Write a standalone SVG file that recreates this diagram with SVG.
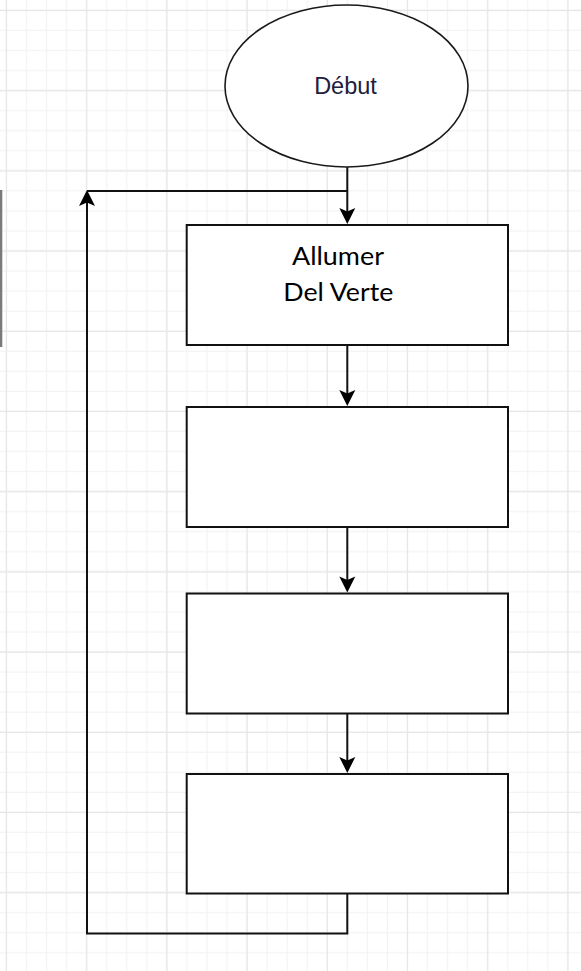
<svg xmlns="http://www.w3.org/2000/svg" width="581" height="971" viewBox="0 0 581 971">
  <style>
    .node { fill: #ffffff; stroke: #111111; stroke-width: 2; }
    .term { fill: #ffffff; stroke: #1a1a1a; stroke-width: 1.6; }
    .edge { fill: none; stroke: #111111; stroke-width: 2; }
    .lbl { font-family: Lato, "Open Sans", sans-serif; font-size: 25px; fill: #000000; text-anchor: middle; }
    .lbl2 { font-family: "Liberation Sans", Arial, sans-serif; font-size: 23.5px; fill: #20203c; text-anchor: middle; }
  </style>
  <defs>
    <pattern id="minor" patternUnits="userSpaceOnUse" x="-3.5" y="0.5" width="20.05" height="20.05">
      <path d="M10,0 V20.05 M0,10 H20.05" stroke="#f3f3f3" stroke-width="1.2" fill="none"/>
    </pattern>
    <pattern id="major" patternUnits="userSpaceOnUse" x="-33.5" y="-29.5" width="80.2" height="80.2">
      <path d="M40,0 V80.2 M0,40 H80.2" stroke="#e6e6e6" stroke-width="1.2" fill="none"/>
    </pattern>
    <marker id="arrow" markerUnits="userSpaceOnUse" markerWidth="17" markerHeight="17" refX="12" refY="8" orient="auto" overflow="visible">
      <path d="M0,0 L16,8 L0,16 L3.5,8 Z" fill="#000000"/>
    </marker>
  </defs>

  <g id="background">
    <rect x="0" y="0" width="581" height="971" fill="#ffffff"/>
    <rect x="0" y="0" width="581" height="971" fill="url(#minor)"/>
    <rect x="0" y="0" width="581" height="971" fill="url(#major)"/>
    <rect x="0" y="190" width="2.3" height="157" fill="#7a7a7a"/>
  </g>

  <g id="connectors">
    <path class="edge" d="M347.3,167 V220" marker-end="url(#arrow)"/>
    <path class="edge" d="M347.3,345 V402" marker-end="url(#arrow)"/>
    <path class="edge" d="M347.3,527 V588.5" marker-end="url(#arrow)"/>
    <path class="edge" d="M347.3,713.5 V769" marker-end="url(#arrow)"/>
    <path class="edge" d="M347.3,893.5 V933.5 H87 V194" marker-end="url(#arrow)"/>
    <path class="edge" d="M87,191 H347.3"/>
  </g>

  <g id="start">
    <ellipse class="term" cx="346.5" cy="86" rx="121.5" ry="81"/>
    <text class="lbl2" x="345.5" y="94.3">Début</text>
  </g>

  <g id="step1">
    <rect class="node" x="186.7" y="225" width="321.3" height="120"/>
    <text class="lbl" x="338" y="265" textLength="92" lengthAdjust="spacingAndGlyphs">Allumer</text>
    <text class="lbl" x="338.3" y="301" textLength="110" lengthAdjust="spacingAndGlyphs">Del Verte</text>
  </g>

  <g id="step2">
    <rect class="node" x="186.7" y="407" width="321.3" height="120"/>
  </g>

  <g id="step3">
    <rect class="node" x="186.7" y="593.5" width="321.3" height="120"/>
  </g>

  <g id="step4">
    <rect class="node" x="186.7" y="774" width="321.3" height="119.5"/>
  </g>
</svg>
